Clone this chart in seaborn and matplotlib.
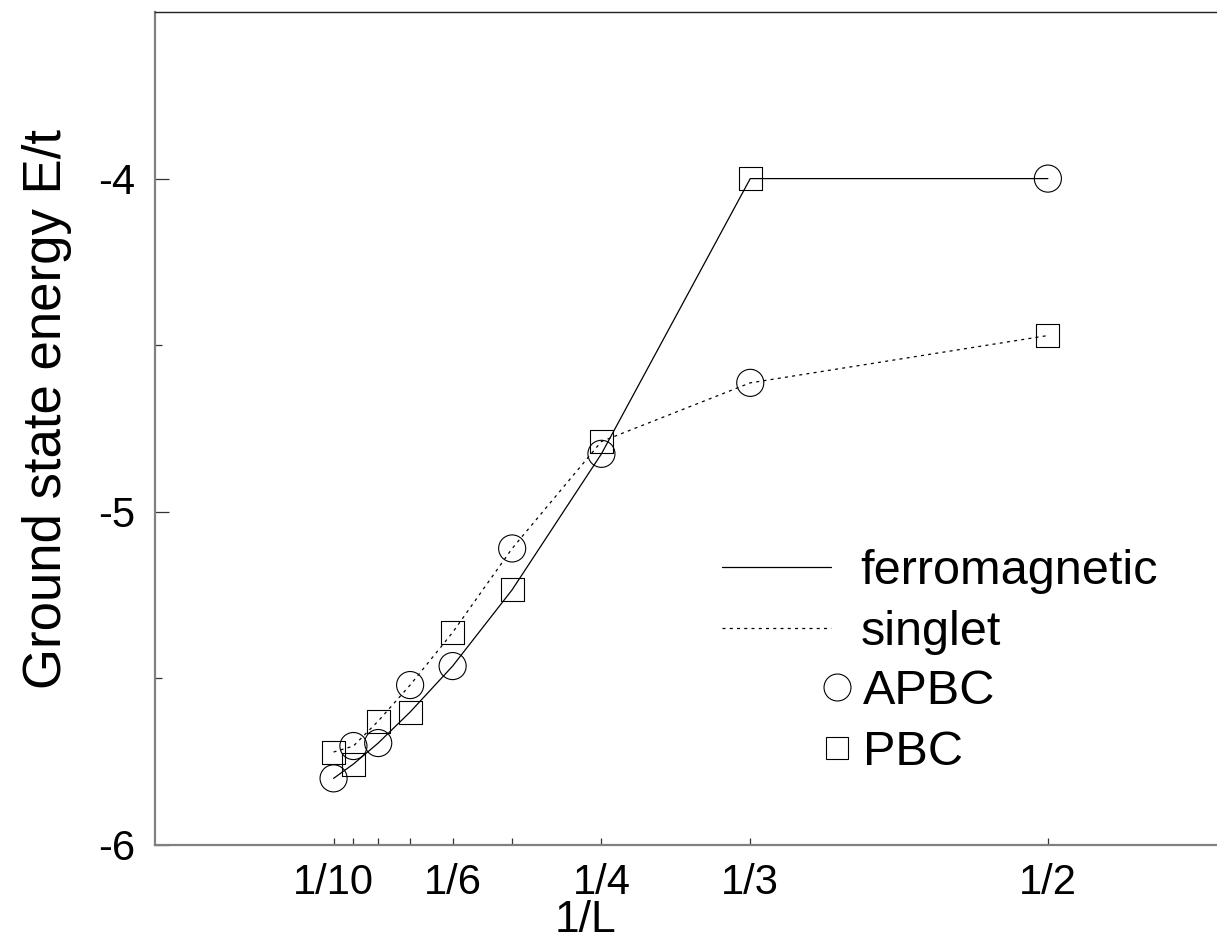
import matplotlib
matplotlib.use("Agg")
import matplotlib.pyplot as plt
from matplotlib.lines import Line2D
from matplotlib.ticker import FixedLocator, FixedFormatter
import seaborn as sns
import pandas as pd

# ---- data -------------------------------------------------------------
L_values = [10, 9, 8, 7, 6, 5, 4, 3, 2]
ferro_E = [-5.800, -5.757, -5.694, -5.601, -5.463, -5.234, -4.826, -4.000, -4.000]
ferro_bc = ["APBC", "PBC", "APBC", "PBC", "APBC", "PBC", "APBC", "PBC", "APBC"]
singlet_E = [-5.721, -5.703, -5.628, -5.520, -5.362, -5.110, -4.789, -4.613, -4.471]
singlet_bc = ["PBC", "APBC", "PBC", "APBC", "PBC", "APBC", "PBC", "APBC", "PBC"]

x_tick_L = [10, 9, 8, 7, 6, 5, 4, 3, 2]
x_tick_labels = ["1/10", "", "", "", "1/6", "", "1/4", "1/3", "1/2"]
y_major = [-6, -5, -4]
y_major_labels = ["-6", "-5", "-4"]
y_minor = [-5.5, -4.5]

states = ["ferromagnetic", "singlet"]

rows = []
for L, e, bc in zip(L_values, ferro_E, ferro_bc):
    rows.append({"x": 1.0 / L, "E": e, "state": "ferromagnetic", "bc": bc})
for L, e, bc in zip(L_values, singlet_E, singlet_bc):
    rows.append({"x": 1.0 / L, "E": e, "state": "singlet", "bc": bc})
df = pd.DataFrame(rows)

# ---- style ------------------------------------------------------------
sns.set_style("white")
plt.rcParams["font.family"] = ["Liberation Sans", "DejaVu Sans"]
plt.rcParams["axes.unicode_minus"] = False
plt.rcParams["text.color"] = "black"
plt.rcParams["axes.labelcolor"] = "black"
plt.rcParams["xtick.labelcolor"] = "black"
plt.rcParams["ytick.labelcolor"] = "black"

W, H = 1217, 951
fig = plt.figure(figsize=(W / 100, H / 100), dpi=100)
ax = fig.add_axes([155 / W, 106 / H, 1062 / W, 833 / H])

dash_map = {"ferromagnetic": "", "singlet": (2.4, 3.4)}
sns.lineplot(data=df, x="x", y="E", style="state", dashes=dash_map,
             color="black", sort=False, estimator=None, legend=False,
             linewidth=0.9, ax=ax)

marker_map = {"APBC": "o", "PBC": "s"}
size_map = {"APBC": 380, "PBC": 275}
sns.scatterplot(data=df, x="x", y="E", style="bc", markers=marker_map,
                size="bc", sizes=size_map, facecolor="none",
                edgecolor="black", linewidth=0.8, legend=False,
                zorder=3, ax=ax)

ax.set_xlim(0.0, 0.5947)
ax.set_ylim(-6.0, -3.5)

ax.xaxis.set_major_locator(FixedLocator([1.0 / L for L in x_tick_L]))
ax.xaxis.set_major_formatter(FixedFormatter(x_tick_labels))
ax.yaxis.set_major_locator(FixedLocator(y_major))
ax.yaxis.set_major_formatter(FixedFormatter(y_major_labels))
ax.yaxis.set_minor_locator(FixedLocator(y_minor))

ax.tick_params(axis="x", which="major", direction="in", length=5, width=0.9,
               color="#333333", labelsize=30, pad=13, bottom=True, top=False)
ax.tick_params(axis="y", which="major", direction="in", length=10, width=0.9,
               color="#333333", labelsize=30, pad=14, left=True, right=False)
ax.tick_params(axis="y", which="minor", direction="in", length=5, width=0.9,
               color="#333333", left=True, right=False)

for side in ["left", "bottom"]:
    ax.spines[side].set_color("#808080")
    ax.spines[side].set_linewidth(1.6)
ax.spines["top"].set_color("#222222")
ax.spines["top"].set_linewidth(1.0)
ax.spines["right"].set_visible(False)

ax.set_xlabel("1/L", fontsize=32)
ax.set_ylabel("Ground state energy E/t", fontsize=38)
ax.xaxis.set_label_coords((585 - 155) / 1062, (845 - 900) / 833)
ax.yaxis.set_label_coords((72 - 155) / 1062, (845 - 409) / 833)

# ---- legends ----------------------------------------------------------
leg_fs = 35
line_handles = [Line2D([], [], color="black", lw=0.9, linestyle="-"),
                Line2D([], [], color="black", lw=0.9, linestyle=(0, (2.4, 3.4)))]
leg1 = ax.legend(line_handles, states, loc="upper left",
                 bbox_to_anchor=(722 / W, 1 - 549 / H),
                 bbox_transform=fig.transFigure, frameon=False,
                 fontsize=leg_fs, handlelength=2.25, handletextpad=0.6,
                 borderpad=0, borderaxespad=0, labelspacing=0.33)
ax.add_artist(leg1)

marker_handles = [Line2D([], [], color="black", marker="o", ms=19.4,
                         mfc="none", mew=0.8, linestyle="none"),
                  Line2D([], [], color="black", marker="s", ms=16.5,
                         mfc="none", mew=0.8, linestyle="none")]
ax.legend(marker_handles, ["APBC", "PBC"], loc="upper left",
          bbox_to_anchor=(822 / W, 1 - 669 / H),
          bbox_transform=fig.transFigure, frameon=False,
          fontsize=leg_fs, handlelength=0.6, handletextpad=0.25,
          borderpad=0, borderaxespad=0, labelspacing=0.33, numpoints=1)

fig.savefig("out.png", dpi=100)
